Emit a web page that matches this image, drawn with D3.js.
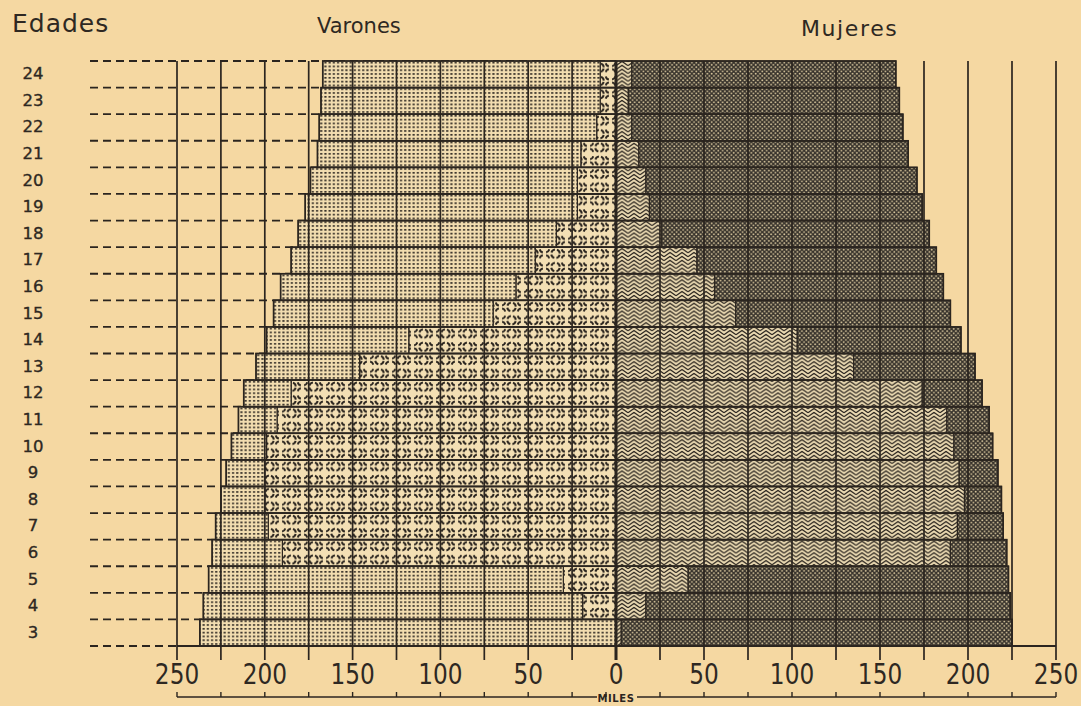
<!DOCTYPE html>
<html>
<head>
<meta charset="utf-8">
<script src="https://cdn.jsdelivr.net/npm/d3@7"></script>
<style>
  html, body { margin: 0; padding: 0; background: #f5d8a2; }
  svg { display: block; }
</style>
</head>
<body>
<svg id="chart" width="1081" height="706"></svg>
<script>
// Ages, bottom to top
const edades = [3, 4, 5, 6, 7, 8, 9, 10, 11, 12, 13, 14, 15, 16, 17, 18, 19, 20, 21, 22, 23, 24];

// Thousands of people per age (same order as edades)
const varonesTotal   = [237, 235, 232, 230, 228, 225, 222, 219, 215, 212, 205, 199, 195, 191, 185, 181, 177, 174, 170, 169, 168, 167];
const varonesEscolar = [0, 19, 30, 190, 198, 200, 200, 199, 193, 185, 146, 118, 70, 57, 46, 34, 22, 22, 20, 11, 9, 9];
const mujeresTotal   = [225, 224, 223, 222, 220, 219, 217, 214, 212, 208, 204, 196, 190, 186, 182, 178, 174, 171, 166, 163, 161, 159];
const mujeresEscolar = [3, 17, 41, 190, 194, 198, 195, 192, 188, 174, 135, 103, 68, 56, 46, 26, 19, 17, 13, 9, 7, 9];

// Axis
const gridMiles   = [0, 25, 50, 75, 100, 125, 150, 175, 200, 225, 250];
const labelMiles  = [50, 100, 150, 200, 250];
const titulos = { edades: "Edades", varones: "Varones", mujeres: "Mujeres", unidad: "MILES" };

const ink = "#2b251f";
const paper = "#f5d8a2";

const svg = d3.select("#chart");
svg.append("rect").attr("width", 1081).attr("height", 706).attr("fill", paper);

// Scales: two half-axes sharing the centre at zero
const xL = d3.scaleLinear().domain([0, 250]).range([616, 177]);
const xR = d3.scaleLinear().domain([0, 250]).range([616, 1056]);
const y = d3.scaleBand().domain(edades.slice().reverse()).range([61, 646]).paddingInner(0).paddingOuter(0);
const bw = y.bandwidth();

// ---------- textures ----------
const defs = svg.append("defs");

// fine dot grid (varones, resto)
const pDot = defs.append("pattern").attr("id", "punteado")
  .attr("patternUnits", "userSpaceOnUse").attr("width", 4.2).attr("height", 3.8);
pDot.append("rect").attr("width", 4.2).attr("height", 3.8).attr("fill", "#f2ddb0");
pDot.append("rect").attr("x", 1.0).attr("y", 1.0).attr("width", 2.1).attr("height", 1.6).attr("fill", ink);

// dashed rings and crosses (varones, escolar)
const tileH = bw / 2;
const pRing = defs.append("pattern").attr("id", "anillos")
  .attr("patternUnits", "userSpaceOnUse").attr("width", 22).attr("height", tileH)
  .attr("patternTransform", `translate(616,61)`);
pRing.append("rect").attr("width", 22).attr("height", tileH).attr("fill", "#f3dfb4");
pRing.append("circle").attr("cx", 5.5).attr("cy", tileH / 2).attr("r", 4.3)
  .attr("fill", "none").attr("stroke", ink).attr("stroke-width", 2)
  .attr("stroke-dasharray", "4.6 2.15").attr("stroke-dashoffset", 5.7);
{
  const cx = 16.5, cy = tileH / 2;
  const arms = [[-1, -1], [1, -1], [1, 1], [-1, 1]];
  arms.forEach(([sx, sy]) => {
    const a = [cx + sx * 1.6, cy + sy * 1.4];
    const b = [cx + sx * 4.8, cy + sy * 4.4];
    const c = [cx + sx * 4.0, cy + sy * 1.8];
    pRing.append("path")
      .attr("d", `M${a[0]},${a[1]} Q${c[0]},${c[1]} ${b[0]},${b[1]}`)
      .attr("fill", "none").attr("stroke", ink).attr("stroke-width", 1.9);
  });
}

// stacked chevrons (mujeres, escolar)
const chH = 3.9;
const pChev = defs.append("pattern").attr("id", "chevron")
  .attr("patternUnits", "userSpaceOnUse").attr("width", 12).attr("height", chH)
  .attr("patternTransform", "translate(616,61)");
pChev.append("rect").attr("width", 12).attr("height", chH).attr("fill", "#ebdab2");
[-2, -1, 0, 1].forEach(k => {
  const o = k * chH;
  pChev.append("path")
    .attr("d", `M0,${4.6 + o} L6,${0.4 + o} L12,${4.6 + o}`)
    .attr("fill", "none").attr("stroke", ink).attr("stroke-width", 1.25);
});

// dense dark screen (mujeres, resto)
const pDark = defs.append("pattern").attr("id", "trama")
  .attr("patternUnits", "userSpaceOnUse").attr("width", 4.4).attr("height", 4.4);
pDark.append("rect").attr("width", 4.4).attr("height", 4.4).attr("fill", "#38332c");
pDark.append("circle").attr("cx", 1.1).attr("cy", 1.1).attr("r", 0.95).attr("fill", "#d6c59c");
pDark.append("circle").attr("cx", 3.3).attr("cy", 3.3).attr("r", 0.95).attr("fill", "#d6c59c");

// ---------- dashed age guides ----------
const bordes = edades.slice().reverse().map(e => y(e)).concat([y(3) + bw]);
svg.append("g").selectAll("line").data(bordes).join("line")
  .attr("x1", 90).attr("x2", xL(0)).attr("y1", d => d).attr("y2", d => d)
  .attr("stroke", ink).attr("stroke-width", 1.8).attr("stroke-dasharray", "8 5");

// ---------- bars ----------
const segmentos = [];
edades.forEach((e, i) => {
  segmentos.push({ edad: e, lado: "v", a: 0, b: varonesEscolar[i], tex: "anillos" });
  segmentos.push({ edad: e, lado: "v", a: varonesEscolar[i], b: varonesTotal[i], tex: "punteado" });
  segmentos.push({ edad: e, lado: "m", a: 0, b: mujeresEscolar[i], tex: "chevron" });
  segmentos.push({ edad: e, lado: "m", a: mujeresEscolar[i], b: mujeresTotal[i], tex: "trama" });
});

svg.append("g").selectAll("rect").data(segmentos.filter(s => s.b > s.a)).join("rect")
  .attr("x", s => s.lado === "v" ? xL(s.b) : xR(s.a))
  .attr("width", s => s.lado === "v" ? xL(s.a) - xL(s.b) : xR(s.b) - xR(s.a))
  .attr("y", s => y(s.edad))
  .attr("height", bw)
  .attr("fill", s => `url(#${s.tex})`)
  .attr("stroke", ink).attr("stroke-width", 1.2);

// row outlines on each side
edades.forEach((e, i) => {
  svg.append("rect").attr("x", xL(varonesTotal[i])).attr("y", y(e))
    .attr("width", xR(mujeresTotal[i]) - xL(varonesTotal[i])).attr("height", bw)
    .attr("fill", "none").attr("stroke", ink).attr("stroke-width", 1.6);
});

// ---------- vertical grid / ticks ----------
const gridG = svg.append("g");
gridMiles.forEach(v => {
  [xL(v), xR(v)].forEach(x => {
    gridG.append("line").attr("x1", x).attr("x2", x).attr("y1", 61).attr("y2", 660)
      .attr("stroke", ink).attr("stroke-width", v === 0 ? 2.6 : 1.7);
  });
});

// baseline
svg.append("line").attr("x1", xL(250)).attr("x2", xR(250)).attr("y1", 646).attr("y2", 646)
  .attr("stroke", ink).attr("stroke-width", 1.8);

// tick labels
const labG = svg.append("g").attr("fill", "#2e2822")
  .attr("font-family", "DejaVu Sans, sans-serif").attr("font-size", 29).attr("text-anchor", "middle");
const etiquetas = [{ v: 0, x: xL(0) }]
  .concat(labelMiles.map(v => ({ v, x: xL(v) })))
  .concat(labelMiles.map(v => ({ v, x: xR(v) })));
labG.selectAll("text").data(etiquetas).join("text")
  .attr("transform", d => `translate(${d.x},684) scale(0.8,1)`)
  .text(d => d.v);

// unit rule with small ticks
const yRule = 697;
svg.append("line").attr("x1", xL(250)).attr("x2", 597).attr("y1", yRule).attr("y2", yRule)
  .attr("stroke", ink).attr("stroke-width", 1.4);
svg.append("line").attr("x1", 637).attr("x2", xR(250)).attr("y1", yRule).attr("y2", yRule)
  .attr("stroke", ink).attr("stroke-width", 1.4);
gridMiles.filter(v => v > 0).forEach(v => {
  [xL(v), xR(v)].forEach(x => {
    svg.append("line").attr("x1", x).attr("x2", x).attr("y1", yRule - 5).attr("y2", yRule)
      .attr("stroke", ink).attr("stroke-width", 1.4);
  });
});
svg.append("line").attr("x1", xL(0) - 10).attr("x2", xL(0) - 10).attr("y1", yRule - 5).attr("y2", yRule)
  .attr("stroke", ink).attr("stroke-width", 1.4);
svg.append("text").attr("x", xL(0)).attr("y", 702).attr("text-anchor", "middle")
  .attr("font-family", "DejaVu Sans, sans-serif").attr("font-weight", "bold")
  .attr("font-size", 10).attr("letter-spacing", 0.6).attr("fill", ink).text(titulos.unidad);

// ---------- titles and age labels ----------
const tG = svg.append("g").attr("fill", "#2e2822").attr("font-family", "DejaVu Sans, sans-serif");
tG.append("text").attr("x", 12).attr("y", 32).attr("font-size", 25).attr("letter-spacing", 1)
  .text(titulos.edades);
tG.append("text").attr("x", 317).attr("y", 33).attr("font-size", 21).attr("letter-spacing", 0)
  .text(titulos.varones);
tG.append("text").attr("x", 801).attr("y", 36).attr("font-size", 22).attr("letter-spacing", 1.6)
  .text(titulos.mujeres);

tG.append("g").selectAll("text").data(edades).join("text")
  .attr("x", 33).attr("y", e => y(e) + bw / 2 + 5)
  .attr("text-anchor", "middle").attr("font-size", 16.5)
  .attr("stroke", "#2e2822").attr("stroke-width", 0.35)
  .text(e => e);
</script>
</body>
</html>
